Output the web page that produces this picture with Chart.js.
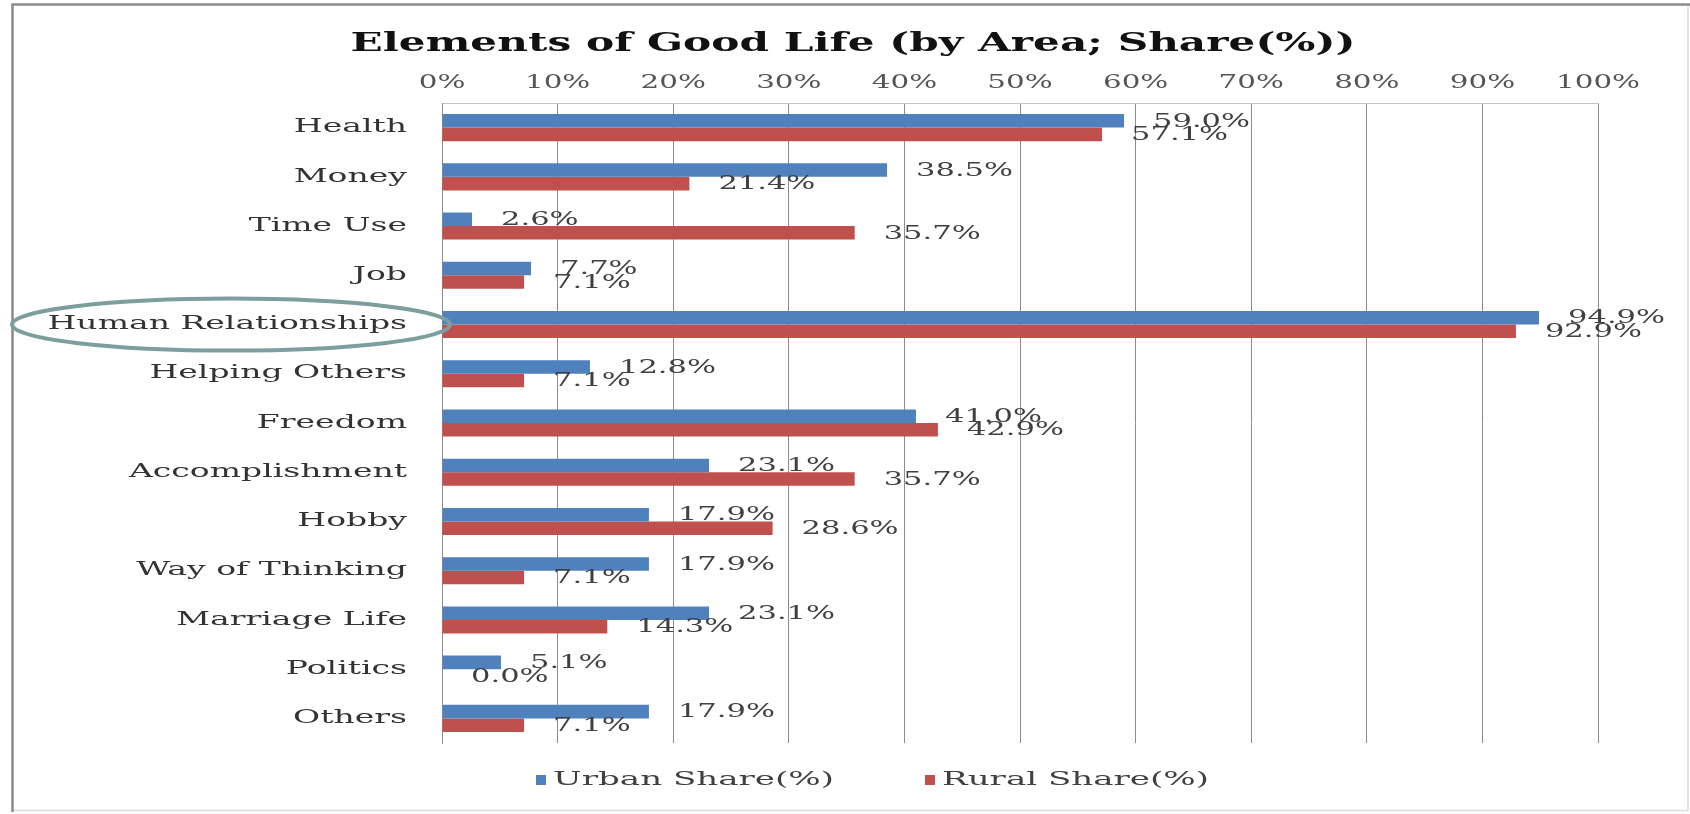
<!DOCTYPE html>
<html>
<head>
<meta charset="utf-8">
<script src="https://cdn.jsdelivr.net/npm/chart.js@4.4.0/dist/chart.umd.min.js"></script>
<style>
  html, body { margin: 0; padding: 0; background: #ffffff; }
  #c { display: block; }
</style>
</head>
<body>
<canvas id="c" width="1690" height="814"></canvas>
<script>
// ---------------- data ----------------
const categories = ['Health', 'Money', 'Time Use', 'Job', 'Human Relationships', 'Helping Others',
  'Freedom', 'Accomplishment', 'Hobby', 'Way of Thinking', 'Marriage Life', 'Politics', 'Others'];
const urbanShare = [59.0, 38.5, 2.6, 7.7, 94.9, 12.8, 41.0, 23.1, 17.9, 17.9, 23.1, 5.1, 17.9];
const ruralShare = [57.1, 21.4, 35.7, 7.1, 92.9, 7.1, 42.9, 35.7, 28.6, 7.1, 14.3, 0.0, 7.1];
const seriesNames = ['Urban Share(%)', 'Rural Share(%)'];
const xTickValues = [0, 10, 20, 30, 40, 50, 60, 70, 80, 90, 100];
const chartTitle = 'Elements of Good Life (by Area; Share(%))';
const highlightedCategory = 'Human Relationships';

// ---------------- styling ----------------
const FAMILY = '"DejaVu Serif", serif';
const BLUE = '#4F81BD';
const RED = '#C0504D';

// The reference text is horizontally stretched; compute stretch factors for each text role.
const mctx = document.createElement('canvas').getContext('2d');
function natW(text, font) { mctx.font = font; return mctx.measureText(text).width; }
const F_TITLE = 'bold 26px ' + FAMILY;
const F_TICK = '18px ' + FAMILY;
const F_Y = '18px ' + FAMILY;
const F_DATA = '18px ' + FAMILY;
const F_LEG = '18px ' + FAMILY;
const sTitle = 1005 / natW(chartTitle, F_TITLE);
const sTick = 84 / natW('100%', F_TICK);
const sY = 278 / natW('Accomplishment', F_Y);
const sData = 97 / natW('38.5%', F_DATA);
const sLeg = 281 / natW('Urban Share(%)', F_LEG);

const canvas = document.getElementById('c');
const ctx = canvas.getContext('2d');
const rawFill = ctx.fillText.bind(ctx);
let stretchOverride = null;
ctx.fillText = function (t, x, y, mw) {
  let f;
  if (stretchOverride != null) f = stretchOverride;
  else if (ctx.textAlign === 'right') f = sY;
  else f = sTick;
  ctx.save();
  ctx.translate(x, y);
  ctx.scale(f, 1);
  if (mw === undefined || mw === null) rawFill(t, 0, 0); else rawFill(t, 0, 0, mw / f);
  ctx.restore();
};
function drawStretched(c, text, x, y, f) {
  stretchOverride = f;
  c.fillText(text, x, y);
  stretchOverride = null;
}

const decorPlugin = {
  id: 'decor',
  beforeDraw(chart) {
    const c = chart.ctx;
    c.save();
    c.fillStyle = '#ffffff';
    c.fillRect(0, 0, chart.width, chart.height);
    // outer frame
    c.strokeStyle = '#dcdcdc';
    c.lineWidth = 1.5;
    c.beginPath();
    c.moveTo(13, 810.5); c.lineTo(1688, 810.5); c.lineTo(1688, 4);
    c.stroke();
    c.strokeStyle = '#8a8a8a';
    c.lineWidth = 2.5;
    c.beginPath();
    c.moveTo(12.5, 812); c.lineTo(12.5, 4.5); c.lineTo(1690, 4.5);
    c.stroke();
    // title
    c.font = F_TITLE;
    c.fillStyle = '#111111';
    c.textAlign = 'center';
    c.textBaseline = 'middle';
    drawStretched(c, chartTitle, 853, 44, sTitle);
    c.restore();
  },
  afterDatasetsDraw(chart) {
    const c = chart.ctx;
    c.save();
    c.font = F_DATA;
    c.fillStyle = '#404040';
    c.textAlign = 'left';
    c.textBaseline = 'middle';
    chart.data.datasets.forEach((ds, di) => {
      chart.getDatasetMeta(di).data.forEach((bar, i) => {
        const txt = ds.data[i].toFixed(1) + '%';
        drawStretched(c, txt, bar.x + 29, bar.y + 1, sData);
      });
    });
    c.restore();
  },
  afterDraw(chart) {
    const c = chart.ctx;
    // legend
    c.save();
    c.font = F_LEG;
    c.textAlign = 'left';
    c.textBaseline = 'middle';
    const legendBoxX = [536, 925];
    const box = 10, gap = 7;
    const y = 780;
    chart.data.datasets.forEach((d, i) => {
      const x = legendBoxX[i];
      c.fillStyle = d.backgroundColor;
      c.fillRect(x, y - box / 2, box, box);
      c.fillStyle = '#404040';
      drawStretched(c, d.label, x + box + gap, y, sLeg);
    });
    // highlight ellipse around a category label
    const yScale = chart.scales.y;
    const cy = yScale.getPixelForValue(categories.indexOf(highlightedCategory));
    c.strokeStyle = '#7d9e9e';
    c.lineWidth = 4;
    c.beginPath();
    c.ellipse(231, cy, 219, 26, 0, 0, Math.PI * 2);
    c.stroke();
    c.restore();
  }
};

new Chart(ctx, {
  type: 'bar',
  data: {
    labels: categories,
    datasets: [
      { label: seriesNames[0], data: urbanShare, backgroundColor: BLUE, borderWidth: 0 },
      { label: seriesNames[1], data: ruralShare, backgroundColor: RED, borderWidth: 0 }
    ]
  },
  options: {
    indexAxis: 'y',
    responsive: false,
    animation: false,
    devicePixelRatio: 1,
    categoryPercentage: 0.55,
    barPercentage: 1.0,
    layout: { padding: { left: 0, right: 92, top: 60, bottom: 71 } },
    plugins: {
      legend: { display: false },
      tooltip: { enabled: false },
      title: { display: false }
    },
    scales: {
      x: {
        position: 'top',
        min: 0,
        max: 100,
        afterBuildTicks: (s) => { s.ticks = xTickValues.map(v => ({ value: v })); },
        ticks: {
          autoSkip: false,
          maxRotation: 0,
          padding: 9,
          color: '#555555',
          font: { family: FAMILY, size: 18 },
          callback: (v) => v + '%'
        },
        grid: { color: '#8c8c8c', lineWidth: 1, drawTicks: false },
        border: { display: true, color: '#c4c4c4', width: 1 },
        afterFit: (s) => { s.height = 43; }
      },
      y: {
        ticks: {
          autoSkip: false,
          padding: 35,
          color: '#333333',
          font: { family: FAMILY, size: 18 }
        },
        grid: { display: false, drawTicks: false },
        border: { display: true, color: '#8c8c8c', width: 1 },
        afterFit: (s) => { s.width = 442; }
      }
    }
  },
  plugins: [decorPlugin]
});
</script>
</body>
</html>
